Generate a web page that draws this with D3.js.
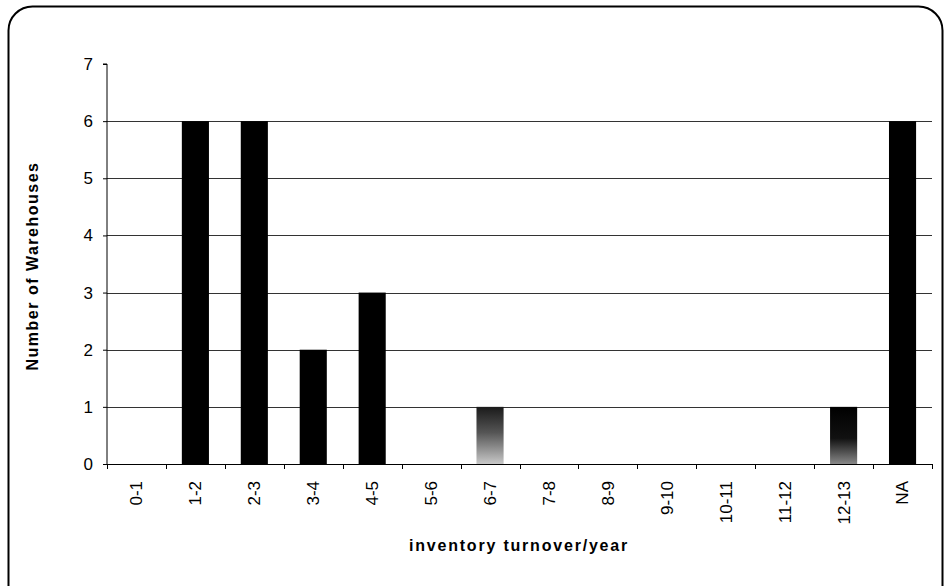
<!DOCTYPE html>
<html><head><meta charset="utf-8">
<script src="https://cdn.jsdelivr.net/npm/d3@7"></script>
<style>body{margin:0;background:#fff}svg{display:block}</style>
</head><body>
<script>
const categories = ["0-1","1-2","2-3","3-4","4-5","5-6","6-7","7-8","8-9","9-10","10-11","11-12","12-13","NA"];
const values = [0,6,6,2,3,0,1,0,0,0,0,0,1,6];
const yTicks = [0,1,2,3,4,5,6,7];
const yTitle = "Number of Warehouses";
const xTitle = "inventory turnover/year";

(function(){
const W = 945, H = 586;
const svg = d3.select("body").append("svg").attr("width", W).attr("height", H);
const defs = svg.append("defs");
const g1 = defs.append("linearGradient").attr("id","gA").attr("x1",0).attr("y1",0).attr("x2",0).attr("y2",1);
g1.append("stop").attr("offset","0%").attr("stop-color","#1a1a1a");
g1.append("stop").attr("offset","45%").attr("stop-color","#555");
g1.append("stop").attr("offset","100%").attr("stop-color","#c8c8c8");
const g2 = defs.append("linearGradient").attr("id","gB").attr("x1",0).attr("y1",0).attr("x2",0).attr("y2",1);
g2.append("stop").attr("offset","0%").attr("stop-color","#000");
g2.append("stop").attr("offset","55%").attr("stop-color","#111");
g2.append("stop").attr("offset","100%").attr("stop-color","#888");

// frame
svg.append("rect").attr("x",8.5).attr("y",6.5).attr("width",934).attr("height",620)
  .attr("rx",24).attr("fill","none").attr("stroke","#000").attr("stroke-width",2);

const pl = 107, pr = 932, pt = 64, pb = 464;
const x = d3.scaleBand().domain(categories).range([pl,pr]).paddingInner(0.54).paddingOuter(0.27);
const xb = d3.scaleBand().domain(categories).range([pl,pr]).padding(0);
const y = d3.scaleLinear().domain([0,7]).range([pb,pt]);

// gridlines
svg.append("g").selectAll("line").data(yTicks.filter(d=>d>0 && d<7)).join("line")
  .attr("x1",pl).attr("x2",pr).attr("y1",d=>Math.round(y(d))+0.5).attr("y2",d=>Math.round(y(d))+0.5)
  .attr("stroke","#333").attr("stroke-width",1);

// bars
svg.append("g").selectAll("rect").data(values.map((v,i)=>({c:categories[i],v}))).join("rect")
  .attr("x",d=>x(d.c)).attr("width",x.bandwidth())
  .attr("y",d=>y(d.v)).attr("height",d=>y(0)-y(d.v))
  .attr("fill",d=>d.c==="6-7"?"url(#gA)":(d.c==="12-13"?"url(#gB)":"#000"));

// y axis
const ya = svg.append("g").attr("transform",`translate(${pl},0)`)
  .call(d3.axisLeft(y).tickValues(yTicks).tickFormat(d3.format("d")).tickSize(4).tickPadding(10));
ya.select(".domain").attr("stroke","#000").attr("d",`M-4,${pt}H0V${pb}`);
ya.selectAll("text").attr("font-family","Liberation Sans, Arial, sans-serif").attr("font-size",17).attr("fill","#000");

// x axis
const xa = svg.append("g").attr("transform",`translate(0,${pb})`)
  .call(d3.axisBottom(xb).tickSize(0).tickPadding(0));
xa.select(".domain").attr("stroke","#000").attr("d",`M${pl},0.5H${pr}`);
xa.selectAll(".tick line").remove();
xa.selectAll(".tick text")
  .attr("font-family","Liberation Sans, Arial, sans-serif").attr("font-size",17).attr("fill","#000")
  .attr("transform","rotate(-90)").attr("text-anchor","end").attr("x",-17).attr("y",0).attr("dy","0.35em");
// boundary ticks
svg.append("g").selectAll("line").data(d3.range(categories.length+1)).join("line")
  .attr("x1",i=>Math.round(pl + i*xb.step())+0.5).attr("x2",i=>Math.round(pl + i*xb.step())+0.5)
  .attr("y1",pb).attr("y2",pb+5).attr("stroke","#000");

// titles
svg.append("text").attr("transform",`translate(38,266) rotate(-90)`).attr("text-anchor","middle")
  .attr("font-family","Liberation Sans, Arial, sans-serif").attr("font-weight","bold").attr("font-size",16)
  .attr("letter-spacing","1.5px").text(yTitle);
svg.append("text").attr("x",519).attr("y",551).attr("text-anchor","middle")
  .attr("font-family","Liberation Sans, Arial, sans-serif").attr("font-weight","bold").attr("font-size",16)
  .attr("letter-spacing","1.8px").text(xTitle);
})();
</script>
</body></html>
